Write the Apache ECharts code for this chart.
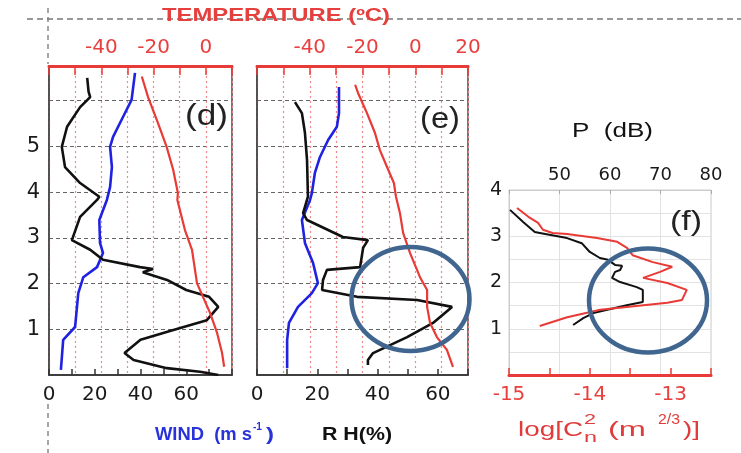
<!DOCTYPE html>
<html><head><meta charset="utf-8">
<script src="https://cdn.jsdelivr.net/npm/echarts@6/dist/echarts.min.js"></script>
<style>html,body{margin:0;padding:0;background:#fff}#c{width:741px;height:453px}</style>
</head><body><div id="c"></div><script>
// ---------- DATA ----------
// Panel (d)
const dTempH = [6.53, 6.08, 5.51, 4.99, 4.49, 3.98, 3.83, 3.17, 2.74, 2.01, 1.71, 1.36, 0.92, 0.48, 0.18];
const dTempT = [-24.5, -22.1, -18.3, -15.0, -12.5, -10.7, -10.9, -8.0, -5.3, -3.4, -1.1, 1.6, 4.3, 6.2, 7.0];
const dWindH = [6.61, 6.02, 5.65, 5.21, 4.99, 4.55, 4.11, 3.83, 3.39, 2.89, 2.67, 2.36, 2.14, 1.79, 1.05, 0.77, 0.11];
const dWindV = [37.6, 36.1, 32.4, 28.0, 26.7, 27.5, 26.7, 25.3, 22.0, 22.3, 23.6, 21.0, 15.0, 12.8, 11.4, 6.2, 5.2];
const dRhH = [6.5, 6.2, 6.08, 5.86, 5.43, 4.99, 4.55, 4.2, 3.9, 3.83, 3.46, 2.95, 2.74, 2.52, 2.36, 2.32, 2.25, 2.08, 1.86, 1.71, 1.49, 1.2, 0.98, 0.77, 0.48, 0.33, 0.15, 0.07, 0.0];
const dRhV = [16.7, 17.3, 18.0, 13.6, 7.9, 5.6, 7.0, 13.6, 22.0, 21.0, 13.6, 10.0, 18.0, 23.6, 39.8, 45.5, 41.0, 51.6, 60.0, 70.0, 74.0, 69.0, 54.0, 40.0, 33.0, 37.0, 51.5, 66.0, 74.0];
// Panel (e)
const eTempH = [6.35, 6.17, 5.73, 5.3, 4.92, 4.55, 4.2, 3.9, 3.54, 3.11, 2.67, 2.14, 1.86, 1.49, 1.14, 0.83, 0.55, 0.18];
const eTempT = [-22.8, -21.7, -18.3, -15.3, -13.4, -10.7, -8.1, -7.3, -5.8, -4.6, -2.0, 1.8, 4.5, 4.5, 5.6, 8.2, 12.0, 14.3];
const eWindH = [6.3, 5.73, 5.43, 5.14, 4.77, 4.42, 3.98, 3.83, 3.39, 2.89, 2.45, 2.01, 1.79, 1.49, 1.14, 0.77, 0.15];
const eWindV = [27.2, 27.2, 26.5, 23.6, 20.9, 19.2, 18.2, 17.6, 14.9, 15.9, 18.6, 20.2, 18.2, 13.6, 10.6, 10.0, 10.0];
const eRhH = [5.97, 5.73, 5.3, 4.7, 3.9, 3.54, 3.39, 3.02, 2.95, 2.78, 2.36, 2.3, 2.08, 1.86, 1.71, 1.64, 1.49, 1.14, 0.83, 0.48, 0.33, 0.22];
const eRhV = [12.6, 14.9, 15.9, 16.6, 16.9, 15.3, 16.6, 28.5, 36.8, 35.2, 34.2, 23.2, 21.9, 21.6, 33.2, 53.1, 64.7, 58.4, 49.8, 38.5, 36.8, 36.8];
// Panel (f)
const fPH = [3.57, 3.31, 3.09, 3.07, 2.96, 2.85, 2.66, 2.53, 2.49, 2.38, 2.36, 2.27, 2.23, 2.1, 2.01, 1.9, 1.84, 1.58, 1.51, 1.34, 1.23, 1.08];
const fPV = [40.2, 42.8, 45.1, 46.1, 51.5, 54.4, 56.0, 58.0, 59.6, 61.0, 62.4, 62.0, 61.0, 60.4, 62.0, 65.3, 66.5, 66.5, 63.3, 56.7, 54.7, 52.7];
const fCnH = [3.61, 3.42, 3.29, 3.14, 3.07, 3.05, 2.96, 2.88, 2.75, 2.59, 2.44, 2.34, 2.23, 2.1, 1.99, 1.84, 1.62, 1.56, 1.41, 1.25, 1.06];
const fCnV = [-14.9, -14.76, -14.64, -14.58, -14.46, -14.28, -13.91, -13.66, -13.54, -13.47, -13.22, -12.98, -13.13, -13.34, -13.04, -12.8, -12.86, -13.04, -13.87, -14.28, -14.62];
// Tick labels
const dTempLabels = [-40, -20, 0];
const eTempLabels = [-40, -20, 0, 20];
const dBottomLabels = [0, 20, 40, 60];
const eBottomLabels = [0, 20, 40, 60];
const heightLabels = [1, 2, 3, 4, 5];
const pLabels = [50, 60, 70, 80];
const cnLabels = [-15, -14, -13];
const fHeightLabels = [1, 2, 3, 4];

// ---------- helpers ----------
const zip = (xs, ys) => xs.map((x, i) => [x, ys[i]]);
const only = arr => v => (arr.indexOf(Math.round(v * 100) / 100) >= 0 ? String(v) : '');
const RED = '#e83a36', BLUE = '#1f22e0', BLK = '#111';
const cv = document.createElement('canvas').getContext('2d');
function txt(text, x, y, size, color, weight, targetW) {
  const font = (weight || 'normal') + ' ' + size + 'px "Liberation Sans"';
  cv.font = font;
  const s = targetW ? targetW / cv.measureText(text).width : 1;
  return { type: 'text', x: x, y: y, scaleX: s, z: 100,
    style: { text: text, font: font, fill: color, textAlign: 'left', textVerticalAlign: 'middle', align: 'left', verticalAlign: 'middle' } };
}
const tickFont = { fontFamily: 'DejaVu Sans', fontSize: 20 };

function tempAxis(grid, min, max, labels) {
  return { type: 'value', gridIndex: grid, position: 'top', min: min, max: max, interval: 10,
    axisLine: { show: true, onZero: false, lineStyle: { color: RED, width: 3 } },
    axisTick: { show: true, inside: true, length: 9, lineStyle: { color: RED, width: 1.5 } },
    axisLabel: Object.assign({ color: '#e8403f', margin: 8, formatter: only(labels) }, tickFont),
    splitLine: { show: true, lineStyle: { color: '#f08a8a', type: [2, 3], width: 1.2 } } };
}
function bottomAxis(grid, max, labels) {
  return { type: 'value', gridIndex: grid, position: 'bottom', min: 0, max: max, interval: 10,
    axisLine: { show: true, onZero: false, lineStyle: { color: '#333', width: 1.5 } },
    axisTick: { show: true, inside: true, length: 6, lineStyle: { color: '#333', width: 1.5 } },
    axisLabel: Object.assign({ color: '#1a1a1a', margin: 10, formatter: only(labels) }, tickFont),
    splitLine: { show: false } };
}
function hAxis(grid, labels) {
  return { type: 'value', gridIndex: grid, min: 0, max: 6.76, interval: 1,
    axisLine: { show: true, onZero: false, lineStyle: { color: '#444', width: 1.5 } },
    axisTick: { show: false },
    axisLabel: { show: !!labels, color: '#1a1a1a', margin: 9, fontFamily: 'DejaVu Sans', fontSize: 21, formatter: labels ? only(labels) : '' },
    splitLine: { show: true, lineStyle: { color: '#666', type: [4, 3], width: 1.2 } } };
}
function line(xi, yi, data, color, w, z) {
  return { type: 'line', xAxisIndex: xi, yAxisIndex: yi, data: data, symbol: 'none', smooth: false,
    lineStyle: { color: color, width: w }, z: z || 2, silent: true };
}

const chart = echarts.init(document.getElementById('c'), null, { renderer: 'canvas' });
chart.setOption({
  animation: false,
  backgroundColor: '#fff',
  grid: [
    { left: 49, top: 66, width: 183, height: 309, show: true, borderColor: '#666', borderWidth: 1.8 },
    { left: 257, top: 66, width: 211, height: 309, show: true, borderColor: '#666', borderWidth: 1.8 },
    { left: 509, top: 190, width: 202, height: 185, show: true, borderColor: '#ccc', borderWidth: 1 }
  ],
  xAxis: [
    tempAxis(0, -60, 10, dTempLabels),
    bottomAxis(0, 80, dBottomLabels),
    tempAxis(1, -60, 20, eTempLabels),
    bottomAxis(1, 70, eBottomLabels),
    { type: 'value', gridIndex: 2, position: 'top', min: 40, max: 80, interval: 10,
      axisLine: { show: true, onZero: false, lineStyle: { color: '#ccc', width: 1 } },
      axisTick: { show: true, inside: true, length: 4, lineStyle: { color: '#aaa' } },
      axisLabel: { color: '#1a1a1a', margin: 6, fontFamily: 'DejaVu Sans', fontSize: 18, formatter: only(pLabels) },
      splitLine: { show: true, lineStyle: { color: '#e2e2e2', width: 1 } } },
    { type: 'value', gridIndex: 2, position: 'bottom', min: -15, max: -12.5, interval: 0.5,
      axisLine: { show: true, onZero: false, lineStyle: { color: RED, width: 3 } },
      axisTick: { show: true, inside: true, length: 7, lineStyle: { color: RED, width: 1.5 } },
      axisLabel: Object.assign({ color: '#e8403f', margin: 10, formatter: only(cnLabels) }, tickFont),
      splitLine: { show: false } }
  ],
  yAxis: [
    hAxis(0, heightLabels),
    hAxis(1, null),
    { type: 'value', gridIndex: 2, min: 0, max: 4, interval: 0.5,
      axisLine: { show: true, onZero: false, lineStyle: { color: '#ccc', width: 1 } },
      axisTick: { show: false },
      axisLabel: { color: '#1a1a1a', margin: 7, fontFamily: 'DejaVu Sans', fontSize: 19, formatter: only(fHeightLabels) },
      splitLine: { show: true, lineStyle: { color: '#e2e2e2', width: 1 } } }
  ],
  series: [
    line(1, 0, zip(dWindV, dWindH), BLUE, 2.6),
    line(1, 0, zip(dRhV, dRhH), BLK, 2.6),
    line(0, 0, zip(dTempT, dTempH), RED, 2.2, 3),
    line(3, 1, zip(eWindV, eWindH), BLUE, 2.6),
    line(3, 1, zip(eRhV, eRhH), BLK, 2.6),
    line(2, 1, zip(eTempT, eTempH), RED, 2.2, 3),
    line(4, 2, zip(fPV, fPH), BLK, 2),
    line(5, 2, zip(fCnV, fCnH), RED, 2, 3)
  ],
  graphic: [
    { type: 'line', z: 1, shape: { x1: 27, y1: 19, x2: 741, y2: 19 }, style: { stroke: '#777', lineDash: [6, 4], lineWidth: 1.3 } },
    { type: 'line', z: 1, shape: { x1: 48, y1: 8, x2: 48, y2: 64 }, style: { stroke: '#777', lineDash: [5, 4], lineWidth: 1.3 } },
    { type: 'line', z: 1, shape: { x1: 48, y1: 404, x2: 48, y2: 453 }, style: { stroke: '#777', lineDash: [5, 4], lineWidth: 1.3 } },
    txt('TEMPERATURE (\u00BAC)', 162, 16, 18, '#e5403d', 'bold', 228),
    txt('(d)', 185, 117, 30, '#222', 'normal', 43),
    txt('(e)', 420, 120, 30, '#222', 'normal', 40),
    txt('(f)', 670, 222, 28, '#222', 'normal', 32),
    txt('WIND  (m s', 155, 435, 18, '#2832d8', 'bold', 97),
    txt('-1', 253, 427, 11, '#2832d8', 'bold', 9),
    txt(')', 266, 435, 18, '#2832d8', 'bold', 8),
    txt('R H(%)', 322, 435, 18, '#111', 'bold', 70),
    txt('P  (dB)', 572, 131, 20, '#111', 'normal', 81),
    txt('log[C', 518, 430, 21, '#e03c3c', 'normal', 65),
    txt('2', 584, 420, 14, '#e03c3c', 'normal', 12),
    txt('n', 584, 438, 15, '#e03c3c', 'normal', 13),
    txt('(m', 608, 430, 21, '#e03c3c', 'normal', 38),
    txt('2/3', 658, 420, 14, '#e03c3c', 'normal', 22),
    txt(')]', 683, 430, 21, '#e03c3c', 'normal', 17),
    { type: 'ellipse', z: 110, shape: { cx: 410.5, cy: 299, rx: 59, ry: 52 }, style: { fill: 'none', stroke: '#40668f', lineWidth: 4.5 } },
    { type: 'ellipse', z: 110, shape: { cx: 648, cy: 300.5, rx: 59, ry: 52 }, style: { fill: 'none', stroke: '#40668f', lineWidth: 4.5 } }
  ]
});
</script></body></html>
